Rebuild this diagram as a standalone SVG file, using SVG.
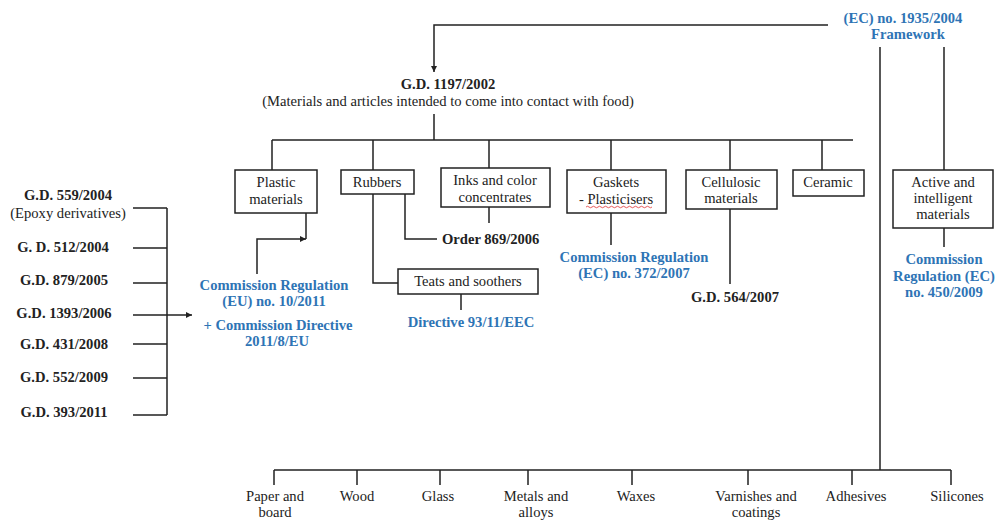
<svg xmlns="http://www.w3.org/2000/svg" width="996" height="520" viewBox="0 0 996 520" font-family="'Liberation Serif', 'DejaVu Serif', serif" font-size="14.6">
<defs>
<marker id="arr" viewBox="0 0 10 10" refX="10" refY="5" markerWidth="6" markerHeight="6" markerUnits="userSpaceOnUse" orient="auto">
<path d="M0,0 L10,5 L0,10 z" fill="#222"/>
</marker>
<style>
text{font-family:'Liberation Serif','DejaVu Serif',serif;font-size:14.6px;fill:#222}
.b{font-weight:bold}
.blue{font-weight:bold;fill:#2E74B5}
.m{text-anchor:middle}
.box{fill:#fff;stroke:#222;stroke-width:1.5}
.ln{fill:none;stroke:#222;stroke-width:1.5}
</style>
</defs>
<rect width="996" height="520" fill="#fff"/>
<g id="connectors">
<path class="ln" d="M828,25 H434 V72" marker-end="url(#arr)"/>
<path class="ln" d="M434,114 V140 M272,140 H853 M272,140 V170 M373,140 V170 M489,140 V168 M611,140 V170 M730,140 V170 M822,140 V170"/>
<path class="ln" d="M880,47 V470 M944,47 V170"/>
<path class="ln" d="M306,213 V239"/>
<path class="ln" d="M257,274 V239 H306" marker-end="url(#arr)"/>
<path class="ln" d="M405,194 V239 H437 M373,194 V283 H398 M489,207 V223 M461,294 V310"/>
<path class="ln" d="M611,213 V245 M730,209 V284 M944,228 V247"/>
<path class="ln" d="M133,208 H167 M133,248 H167 M133,283 H167 M133,315 H167 M133,344 H167 M133,378 H167 M133,415 H167 M167,208 V415"/>
<path class="ln" d="M167,315 H192" marker-end="url(#arr)"/>
<path class="ln" d="M274,470 H951 M274,470 V485 M357,470 V485 M440,470 V485 M528,470 V485 M632,470 V485 M748,470 V485 M852,470 V485 M951,470 V485"/>
</g>
<g id="framework">
<text class="blue m" x="903" y="23">(EC) no. 1935/2004</text>
<text class="blue m" x="908" y="39">Framework</text>
</g>
<g id="gd1197">
<text class="b m" x="448" y="89">G.D. 1197/2002</text>
<text class="m" x="448" y="106">(Materials and articles intended to come into contact with food)</text>
</g>
<g id="plastic">
<rect class="box" x="235" y="170" width="82" height="43"/>
<text class="m" x="276" y="187">Plastic</text>
<text class="m" x="276" y="204">materials</text>
</g>
<g id="rubbers">
<rect class="box" x="341" y="170" width="73" height="24"/>
<text class="m" x="377" y="187">Rubbers</text>
</g>
<g id="inks">
<rect class="box" x="441" y="168" width="109" height="39"/>
<text class="m" x="495" y="185">Inks and color</text>
<text class="m" x="495" y="202">concentrates</text>
</g>
<g id="teats">
<rect class="box" x="398" y="269" width="140" height="25"/>
<text class="m" x="468" y="286">Teats and soothers</text>
</g>
<g id="gaskets">
<rect class="box" x="567" y="170" width="99" height="43"/>
<text class="m" x="616" y="187">Gaskets</text>
<text class="m" x="616" y="204">- Plasticisers</text>
<path d="M586,207 q1.5,-1.5 3,0 t3,0 t3,0 t3,0 t3,0 t3,0 t3,0 t3,0 t3,0 t3,0 t3,0 t3,0 t3,0 t3,0 t3,0 t3,0 t3,0 t3,0 t3,0 t3,0 t3,0 t3,0" fill="none" stroke="#e03030" stroke-width="0.8"/>
</g>
<g id="cellulosic">
<rect class="box" x="686" y="170" width="91" height="39"/>
<text class="m" x="731" y="187">Cellulosic</text>
<text class="m" x="731" y="203">materials</text>
</g>
<g id="ceramic">
<rect class="box" x="793" y="170" width="71" height="26"/>
<text class="m" x="828" y="187">Ceramic</text>
</g>
<g id="active">
<rect class="box" x="893" y="170" width="100" height="58"/>
<text class="m" x="943" y="187">Active and</text>
<text class="m" x="943" y="203">intelligent</text>
<text class="m" x="943" y="219">materials</text>
</g>
<g id="reg10-2011">
<text class="blue m" x="274" y="290">Commission Regulation</text>
<text class="blue m" x="274" y="306">(EU) no. 10/2011</text>
<text class="blue m" x="278" y="330">+ Commission Directive</text>
<text class="blue m" x="277" y="346">2011/8/EU</text>
</g>
<g id="order869">
<text class="b" x="442" y="244">Order 869/2006</text>
</g>
<g id="dir93">
<text class="blue m" x="471" y="327">Directive 93/11/EEC</text>
</g>
<g id="reg372">
<text class="blue m" x="634" y="262">Commission Regulation</text>
<text class="blue m" x="634" y="278">(EC) no. 372/2007</text>
</g>
<g id="gd564">
<text class="b m" x="735" y="302">G.D. 564/2007</text>
</g>
<g id="reg450">
<text class="blue m" x="944" y="264">Commission</text>
<text class="blue m" x="944" y="281">Regulation (EC)</text>
<text class="blue m" x="944" y="297">no. 450/2009</text>
</g>
<g id="gd-list">
<text class="b m" x="68" y="200">G.D. 559/2004</text>
<text class="m" x="68" y="218">(Epoxy derivatives)</text>
<text class="b m" x="63" y="252">G. D. 512/2004</text>
<text class="b m" x="64" y="285">G.D. 879/2005</text>
<text class="b m" x="64" y="318">G.D. 1393/2006</text>
<text class="b m" x="64" y="349">G.D. 431/2008</text>
<text class="b m" x="64" y="382">G.D. 552/2009</text>
<text class="b m" x="64" y="417">G.D. 393/2011</text>
</g>
<g id="materials-other">
<text class="m" x="275" y="501">Paper and</text>
<text class="m" x="275" y="517">board</text>
<text class="m" x="357" y="501">Wood</text>
<text class="m" x="438" y="501">Glass</text>
<text class="m" x="536" y="501">Metals and</text>
<text class="m" x="536" y="517">alloys</text>
<text class="m" x="636" y="501">Waxes</text>
<text class="m" x="756" y="501">Varnishes and</text>
<text class="m" x="756" y="517">coatings</text>
<text class="m" x="856" y="501">Adhesives</text>
<text class="m" x="957" y="501">Silicones</text>
</g>
</svg>
